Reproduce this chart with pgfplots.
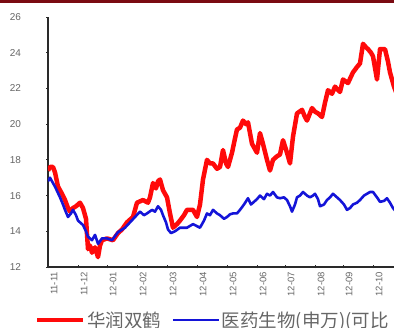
\documentclass[border=0pt]{standalone}
\usepackage{fontspec}
\setmainfont{Liberation Sans}
\newfontfamily\cjk{Noto Sans CJK SC}
\usepackage{pgfplots}
\pgfplotsset{compat=1.18}
\definecolor{topbar}{HTML}{7A0A12}
\definecolor{axgray}{HTML}{2A2A2A}
\definecolor{lblgray}{HTML}{666666}
\definecolor{sred}{HTML}{FF0A0A}
\definecolor{sblue}{HTML}{1414D8}
\begin{document}
\begin{tikzpicture}
\useasboundingbox (-48pt,-61pt) rectangle (346pt,267pt);
\begin{axis}[
  scale only axis, width=346pt, height=250pt,
  xmin=0, xmax=346, ymin=12, ymax=26,
  axis lines=left,
  axis line style={-, axgray, line width=1.8pt},
  ytick={12,14,...,26},
  xtick={0,30,59,89,119,149,179,209,237,267,295,325},
  xticklabels={11-11,11-12,12-01,12-02,12-03,12-04,12-05,12-06,12-07,12-08,12-09,12-10},
  major tick length=3pt, tick align=center,
  tick style={axgray, line width=0.8pt},
  /pgf/number format/assume math mode=true,
  yticklabel style={font=\fontsize{10}{12}\selectfont, text=lblgray, anchor=east, xshift=-22pt},
  xticklabel style={font=\fontsize{9.5}{11}\selectfont, text=lblgray, rotate=90, anchor=east, yshift=-6pt},
  legend style={draw=none, fill=none, at={(-0.0376,-0.212)}, anchor=west,
    inner sep=0pt, font=\cjk\fontsize{18.5}{21}\selectfont, text=lblgray,
    nodes={inner sep=1.5pt}},
  legend columns=2,
  legend cell align=left,
  legend image code/.code={\draw[#1] (0pt,0pt) -- (46pt,0pt);},
  /tikz/every even column/.append style={column sep=9pt},
]
\addplot[sred, line width=4.5pt, line join=round] coordinates {
(0,17.4)(2,17.6)(5,17.6)(7,17.3)(10,16.5)(14,16.1)(17,15.75)(20,15.3)(22,15.1)(25,15.3)
(28,15.4)(32,15.6)(35,15.3)(38,14.7)(40,13.0)(42,13.2)(44,12.8)(47,13.1)(50,12.55)(52,13.2)
(54,13.5)(59,13.6)(65,13.5)(70,13.9)(74,14.1)(79,14.5)(85,14.8)(89,15.6)(95,15.75)(100,15.6)
(102,15.9)(105,16.7)(108,16.4)(110,16.8)(112,16.9)(115,16.3)(119,15.9)(122,15.0)(125,14.2)(129,14.4)
(132,14.6)(136,14.9)(139,15.2)(145,15.2)(149,14.8)(152,15.5)(155,16.9)(159,18.0)(162,17.8)(165,17.8)
(169,17.5)(172,17.6)(175,18.55)(178,17.8)(180,17.6)(184,18.4)(187,19.2)(189,19.7)(192,19.8)(195,20.2)
(198,20.0)(200,20.1)(204,18.9)(207,18.6)(209,18.4)(212,19.5)(215,18.9)(219,18.0)(222,17.4)(225,18.0)
(229,18.2)(232,18.3)(235,19.1)(239,18.4)(242,17.8)(245,19.3)(249,20.6)(254,20.8)(257,20.4)(259,20.2)
(264,20.9)(267,20.7)(270,20.6)(274,20.4)(277,21.2)(280,21.9)(284,21.7)(287,22.1)(292,21.8)(295,22.5)
(300,22.3)(305,22.9)(309,23.2)(312,23.4)(315,24.5)(318,24.3)(320,24.2)(323,24.0)(325,23.8)(329,22.5)
(332,24.2)(337,24.2)(340,23.5)(342,22.9)(346,22.1)(348,21.8)
};
\addlegendentry{华润双鹤}
\addplot[sblue, line width=2.6pt, line join=round] coordinates {
(0,16.8)(2,17.0)(7,16.5)(12,15.9)(15,15.5)(17,15.2)(20,14.8)(23,15.0)(25,15.2)(28,14.9)
(30,14.6)(35,14.35)(38,14.0)(40,13.7)(44,13.5)(47,13.8)(50,13.3)(54,13.6)(59,13.6)(64,13.5)
(70,13.95)(77,14.2)(82,14.5)(87,14.8)(92,15.1)(96,14.9)(99,15.0)(104,15.2)(107,15.1)(110,15.4)
(113,15.2)(115,14.9)(118,14.5)(120,14.1)(123,13.9)(127,14.0)(132,14.2)(139,14.2)(145,14.4)(152,14.2)
(156,14.6)(159,15.0)(162,14.9)(165,15.2)(169,15.0)(172,14.9)(176,14.7)(179,14.8)(182,14.95)(185,15.0)
(189,15.0)(192,15.2)(196,15.5)(200,15.85)(203,15.5)(205,15.6)(209,15.8)(212,16.0)(216,15.8)(219,16.1)
(222,16.0)(225,16.2)(229,15.9)(232,15.85)(236,15.9)(239,15.75)(242,15.4)(244,15.1)(247,15.5)(249,15.9)
(252,16.0)(255,16.2)(259,16.0)(262,15.9)(265,16.0)(267,16.1)(270,15.8)(272,15.4)(276,15.5)(279,15.75)
(282,15.9)(285,16.1)(289,15.9)(292,15.75)(296,15.5)(299,15.2)(302,15.3)(305,15.5)(309,15.6)(312,15.75)
(316,16.0)(319,16.1)(322,16.2)(325,16.2)(329,15.9)(332,15.65)(336,15.7)(339,15.85)(342,15.6)(345,15.3)(348,15.1)
};
\addlegendentry{医药生物(申万)(可比}
\end{axis}
\fill[topbar] (-48pt,263.5pt) rectangle (346pt,267pt);
\end{tikzpicture}
\end{document}
